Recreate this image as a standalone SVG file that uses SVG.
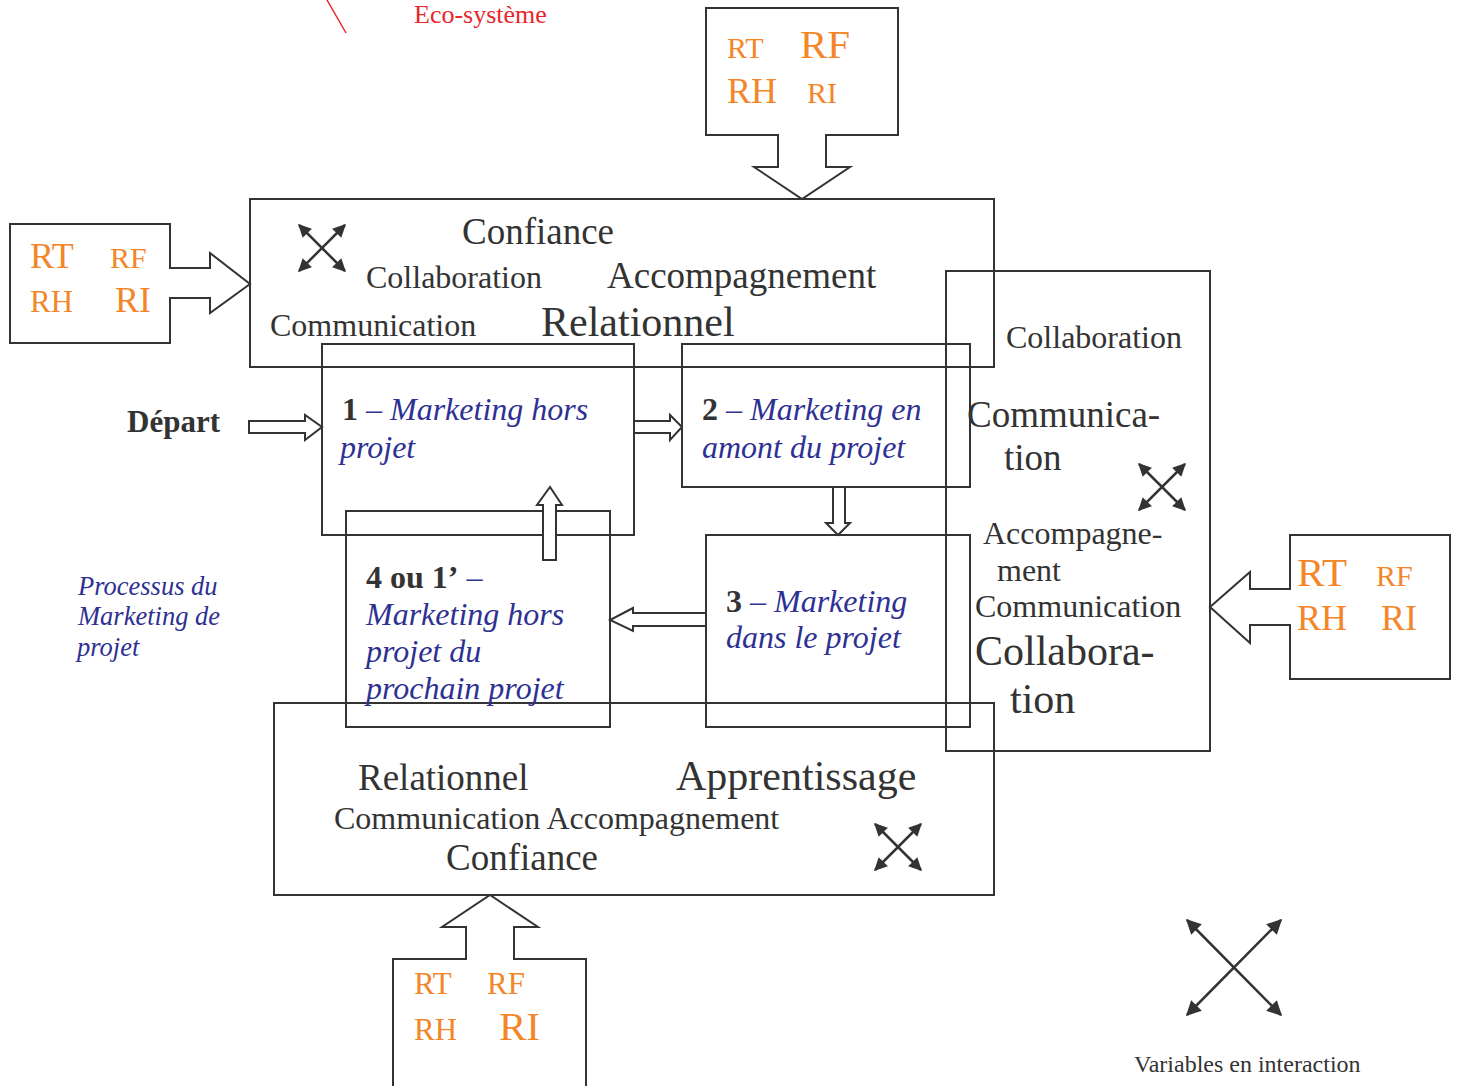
<svg xmlns="http://www.w3.org/2000/svg" width="1457" height="1086" viewBox="0 0 1457 1086">
<style>
.box{fill:none;stroke:#333;stroke-width:2}
.blk{fill:#fff;stroke:#333;stroke-width:2;stroke-linejoin:miter}
.t{font-family:"Liberation Serif","Times New Roman",serif;fill:#333}
.o{font-family:"Liberation Serif","Times New Roman",serif;fill:#F4862A}
.b{font-family:"Liberation Serif","Times New Roman",serif;fill:#2E3192;font-style:italic}
.n{font-weight:bold;font-style:normal;fill:#333}
.x{stroke:#333;stroke-width:2.5;fill:none}
</style>
<defs>
<marker id="ah" viewBox="0 0 10 10" refX="9" refY="5" markerUnits="userSpaceOnUse" markerWidth="15" markerHeight="13" orient="auto-start-reverse">
<path d="M0,0 L10,5 L0,10 z" fill="#333"/>
</marker>
<marker id="ahL" viewBox="0 0 10 10" refX="9" refY="5" markerUnits="userSpaceOnUse" markerWidth="19" markerHeight="15" orient="auto-start-reverse">
<path d="M0,0 L10,5 L0,10 z" fill="#333"/>
</marker>
<g id="xs">
<line class="x" x1="-23" y1="-23" x2="23" y2="23" marker-start="url(#ah)" marker-end="url(#ah)"/>
<line class="x" x1="23" y1="-23" x2="-23" y2="23" marker-start="url(#ah)" marker-end="url(#ah)"/>
</g>
</defs>
<rect width="1457" height="1086" fill="#fff"/>

<g id="ecosysteme">
<line x1="327" y1="0" x2="346" y2="33" stroke="#E8262B" stroke-width="1.5"/>
<text x="414" y="23" font-size="26" font-family="Liberation Serif,serif" fill="#E8262B">Eco-système</text>
</g>

<g id="relationnel-top">
<rect class="box" x="250" y="199" width="744" height="168"/>
<use href="#xs" transform="translate(322,248)"/>
<text class="t" x="462" y="244" font-size="37">Confiance</text>
<text class="t" x="366" y="288" font-size="32">Collaboration</text>
<text class="t" x="607" y="288" font-size="37">Accompagnement</text>
<text class="t" x="270" y="336" font-size="32">Communication</text>
<text class="t" x="541" y="336" font-size="42">Relationnel</text>
</g>

<g id="collaboration-right">
<rect class="box" x="946" y="271" width="264" height="480"/>
<use href="#xs" transform="translate(1162,487)"/>
<text class="t" x="1006" y="348" font-size="32">Collaboration</text>
<text class="t" x="967" y="427" font-size="37">Communica-</text>
<text class="t" x="1004" y="470" font-size="37">tion</text>
<text class="t" x="983" y="544" font-size="32">Accompagne-</text>
<text class="t" x="997" y="581" font-size="32">ment</text>
<text class="t" x="975" y="617" font-size="32">Communication</text>
<text class="t" x="975" y="665" font-size="42">Collabora-</text>
<text class="t" x="1010" y="713" font-size="42">tion</text>
</g>

<g id="apprentissage-bottom">
<rect class="box" x="274" y="703" width="720" height="192"/>
<use href="#xs" transform="translate(898,847)"/>
<text class="t" x="358" y="790" font-size="37">Relationnel</text>
<text class="t" x="676" y="790" font-size="42">Apprentissage</text>
<text class="t" x="334" y="829" font-size="32">Communication Accompagnement</text>
<text class="t" x="446" y="870" font-size="37">Confiance</text>
</g>

<g id="step1">
<rect class="box" x="322" y="344" width="312" height="191"/>
<text class="b" x="342" y="420" font-size="32"><tspan class="n">1</tspan> – Marketing hors</text>
<text class="b" x="340" y="458" font-size="32">projet</text>
</g>

<g id="step2">
<rect class="box" x="682" y="344" width="288" height="143"/>
<text class="b" x="702" y="420" font-size="32"><tspan class="n">2</tspan> – Marketing en</text>
<text class="b" x="702" y="458" font-size="32">amont du projet</text>
</g>

<g id="step3">
<rect class="box" x="706" y="535" width="264" height="192"/>
<text class="b" x="726" y="612" font-size="32"><tspan class="n">3</tspan> – Marketing</text>
<text class="b" x="726" y="648" font-size="32">dans le projet</text>
</g>

<g id="step4">
<rect class="box" x="346" y="511" width="264" height="216"/>
<text class="b" x="366" y="588" font-size="32"><tspan class="n">4 ou 1’</tspan> –</text>
<text class="b" x="366" y="625" font-size="32">Marketing hors</text>
<text class="b" x="366" y="662" font-size="32">projet du</text>
<text class="b" x="366" y="699" font-size="32">prochain projet</text>
</g>

<g id="depart">
<text class="t" x="127" y="432" font-size="31" font-weight="bold">Départ</text>
</g>

<g id="processus">
<text class="b" x="78" y="595" font-size="26.5">Processus du</text>
<text class="b" x="78" y="625" font-size="26.5">Marketing de</text>
<text class="b" x="77" y="656" font-size="26.5">projet</text>
</g>

<g id="rt-top">
<path class="blk" d="M706,8 H898 V135 H826 V167 H850 L802,199 L754,167 H778 V135 H706 Z"/>
<text class="o" x="727" y="58" font-size="30">RT</text>
<text class="o" x="800" y="58" font-size="41">RF</text>
<text class="o" x="727" y="103" font-size="36">RH</text>
<text class="o" x="807" y="103" font-size="30">RI</text>
</g>

<g id="rt-left">
<path class="blk" d="M10,224 H170 V268 H210 V253 L250,284 L210,313 V298 H170 V343 H10 Z"/>
<text class="o" x="30" y="268" font-size="36">RT</text>
<text class="o" x="110" y="268" font-size="30">RF</text>
<text class="o" x="30" y="312" font-size="31">RH</text>
<text class="o" x="115" y="312" font-size="36">RI</text>
</g>

<g id="rt-right">
<path class="blk" d="M1450,535 H1290 V589 H1250 V572 L1210,607 L1250,643 V625 H1290 V679 H1450 Z"/>
<text class="o" x="1297" y="586" font-size="41">RT</text>
<text class="o" x="1376" y="586" font-size="30">RF</text>
<text class="o" x="1297" y="630" font-size="36">RH</text>
<text class="o" x="1381" y="630" font-size="36">RI</text>
</g>

<g id="rt-bottom">
<path class="blk" d="M393,1090 V959 H466 V927 H442 L490,895 L538,927 H514 V959 H586 V1090"/>
<text class="o" x="414" y="994" font-size="31">RT</text>
<text class="o" x="487" y="994" font-size="31">RF</text>
<text class="o" x="414" y="1040" font-size="31">RH</text>
<text class="o" x="499" y="1040" font-size="41">RI</text>
</g>

<g id="legend">
<line class="x" x1="1187" y1="920" x2="1281" y2="1015" marker-start="url(#ahL)" marker-end="url(#ahL)"/>
<line class="x" x1="1281" y1="920" x2="1187" y2="1015" marker-start="url(#ahL)" marker-end="url(#ahL)"/>
<text class="t" x="1134" y="1072" font-size="24">Variables en interaction</text>
</g>

<g id="connectors">
<path class="blk" d="M249,421 H305 V415 L322,427 L305,440 V433 H249 Z"/>
<path class="blk" d="M634,421 H670 V415 L682,427 L670,440 V433 H634 Z"/>
<path class="blk" d="M833,487 V523 H826 L838,535 L850,523 H845 V487 Z"/>
<path class="blk" d="M706,613 H633 V608 L610,620 L633,631 V626 H706 Z"/>
<path class="blk" d="M543,560 V505 H537 L550,487 L562,505 H556 V560 Z"/>
</g>
</svg>
